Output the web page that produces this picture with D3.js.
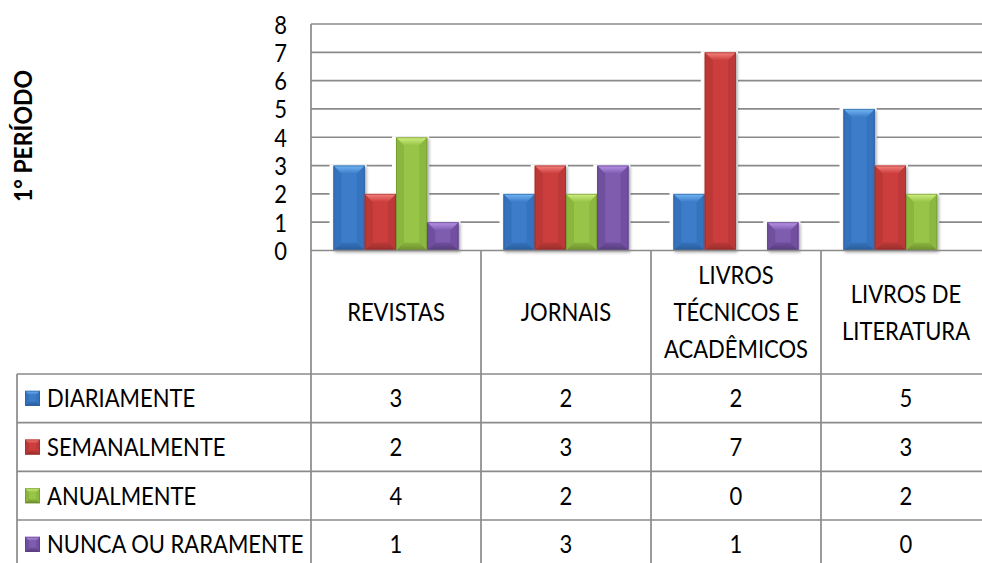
<!DOCTYPE html>
<html><head><meta charset="utf-8">
<script src="https://cdn.jsdelivr.net/npm/d3@7"></script>
<style>
html,body{margin:0;padding:0;background:#fff;overflow:hidden}
svg{display:block;font-family:Lato,"Open Sans",sans-serif}
</style></head>
<body>
<script>
// ---- data ----
const categories = ["REVISTAS", "JORNAIS", "LIVROS\nTÉCNICOS E\nACADÊMICOS", "LIVROS DE\nLITERATURA"];
const seriesNames = ["DIARIAMENTE", "SEMANALMENTE", "ANUALMENTE", "NUNCA OU RARAMENTE"];
const diariamente = [3, 2, 2, 5];
const semanalmente = [2, 3, 7, 3];
const anualmente = [4, 2, 0, 2];
const nuncaOuRaramente = [1, 3, 1, 0];
const yTickValues = [0, 1, 2, 3, 4, 5, 6, 7, 8];
const axisTitle = "1° PERÍODO";

const seriesValues = [diariamente, semanalmente, anualmente, nuncaOuRaramente];
const palette = [
  {body:"#3c7cc9", top:"#74b8f6", bottom:"#2a5c98", side:"#3472bd"},
  {body:"#cc3e3c", top:"#f58480", bottom:"#972c2a", side:"#bb3836"},
  {body:"#98c547", top:"#d0f083", bottom:"#6c8c2e", side:"#8ab63e"},
  {body:"#7e5bae", top:"#bb96ea", bottom:"#533a7a", side:"#714f9f"}
];

const W = 982, H = 563;
const FS = 25, SX = 0.88; // font size and horizontal condense (Calibri-like)
const svg = d3.select("body").append("svg").attr("width", W).attr("height", H);
const defs = svg.append("defs");
const f = defs.append("filter").attr("id","shadow").attr("x","-20%").attr("y","-20%").attr("width","150%").attr("height","150%");
f.append("feDropShadow").attr("dx",1.5).attr("dy",1.5).attr("stdDeviation",1.5).attr("flood-color","#000").attr("flood-opacity",0.35);

palette.forEach((p,i)=>{
  const g = defs.append("linearGradient").attr("id","top"+i).attr("x1",0).attr("y1",0).attr("x2",0).attr("y2",1);
  g.append("stop").attr("offset","0%").attr("stop-color",p.top);
  g.append("stop").attr("offset","100%").attr("stop-color",p.body);
  const b = defs.append("linearGradient").attr("id","bot"+i).attr("x1",0).attr("y1",0).attr("x2",0).attr("y2",1);
  b.append("stop").attr("offset","0%").attr("stop-color",p.side);
  b.append("stop").attr("offset","100%").attr("stop-color",p.bottom);
});

function label(parent, x0, y0, txt, anchor){
  return parent.append("text").attr("transform",`translate(${x0},${y0}) scale(${SX},1)`)
    .attr("text-anchor", anchor || "middle").attr("dy","0.36em")
    .attr("font-size",FS).attr("fill","#000").text(txt);
}

const plotLeft = 311, plotRight = 991;
const y = d3.scaleLinear().domain([0, 8]).range([250.5, 24]);
const x = d3.scaleBand().domain(categories).range([plotLeft, plotRight]).paddingInner(0).paddingOuter(0);
const xs = d3.scaleBand().domain(seriesNames).range([0, x.bandwidth()]).paddingInner(0).paddingOuter(0.72);

const lineColor = "#8a8a8a";

// gridlines
svg.append("g").selectAll("line").data(yTickValues.filter(d=>d>0)).join("line")
  .attr("x1", plotLeft).attr("x2", W).attr("y1", d=>y(d)).attr("y2", d=>y(d))
  .attr("stroke", lineColor).attr("stroke-width", 1.7);

// y axis labels
const yAxis = d3.axisLeft(y).tickValues(yTickValues).tickSize(0).tickPadding(0).tickFormat(d3.format("d"));
const ya = svg.append("g").attr("transform", `translate(287,0)`).call(yAxis);
ya.select(".domain").remove();
ya.selectAll(".tick text").attr("font-size", FS).attr("fill", "#000").attr("font-family","Lato,sans-serif")
  .attr("x", 0).attr("dy","0.36em").attr("transform", `scale(${SX},1)`);

// bars
const barData = [];
categories.forEach((c,ci)=>seriesNames.forEach((s,si)=>barData.push({c, s, si, v: seriesValues[si][ci]})));
const bw = xs.bandwidth();
const barsG = svg.append("g");
barsG.selectAll("rect.halo").data(barData.filter(d=>d.v>0)).join("rect").attr("class","halo")
  .attr("x", d=>x(d.c)+xs(d.s)-4).attr("y", d=>y(d.v)-1)
  .attr("width", bw+6).attr("height", d=>y(0)-y(d.v)+1).attr("fill","#fff");

const bars = barsG.selectAll("g.bar").data(barData.filter(d=>d.v>0)).join("g").attr("class","bar")
  .attr("filter","url(#shadow)");
function bevel(sel, x0, y0, w, h, i, b){
  const p = palette[i];
  const g = sel.append("g");
  g.append("rect").attr("x",x0).attr("y",y0).attr("width",w).attr("height",h).attr("fill",p.body);
  g.append("polygon").attr("points",`${x0},${y0} ${x0+b},${y0+b} ${x0+b},${y0+h-b} ${x0},${y0+h}`).attr("fill",p.side);
  g.append("polygon").attr("points",`${x0+w},${y0} ${x0+w-b},${y0+b} ${x0+w-b},${y0+h-b} ${x0+w},${y0+h}`).attr("fill",p.side).attr("opacity",0.9);
  g.append("polygon").attr("points",`${x0},${y0} ${x0+w},${y0} ${x0+w-b},${y0+b} ${x0+b},${y0+b}`).attr("fill",`url(#top${i})`);
  g.append("polygon").attr("points",`${x0},${y0+h} ${x0+w},${y0+h} ${x0+w-b},${y0+h-b} ${x0+b},${y0+h-b}`).attr("fill",`url(#bot${i})`);
  g.append("rect").attr("x",x0+0.5).attr("y",y0+0.5).attr("width",w-1).attr("height",h-1).attr("fill","none").attr("stroke",p.bottom).attr("stroke-width",1).attr("opacity",0.6);
  return g;
}
bars.each(function(d){
  const x0 = x(d.c)+xs(d.s), y0 = y(d.v), h = y(0)-y(d.v);
  bevel(d3.select(this), x0, y0, bw, h, d.si, 8);
});

// data table
const rows = d3.scaleBand().domain(seriesNames).range([374, 374 + 4*48.67]);
const tableG = svg.append("g").attr("stroke", lineColor).attr("stroke-width", 1.7);
tableG.append("line").attr("x1", plotLeft).attr("x2", W).attr("y1", y(0)).attr("y2", y(0));
tableG.append("line").attr("x1", plotLeft).attr("x2", plotLeft).attr("y1", y(8)).attr("y2", H);
tableG.selectAll("line.col").data(categories.slice(1)).join("line").attr("class","col")
  .attr("x1", d=>x(d)).attr("x2", d=>x(d)).attr("y1", y(0)).attr("y2", H);
tableG.selectAll("line.row").data(seriesNames).join("line").attr("class","row")
  .attr("x1", 17).attr("x2", W).attr("y1", d=>rows(d)).attr("y2", d=>rows(d));
tableG.append("line").attr("x1", 17).attr("x2", 17).attr("y1", rows(seriesNames[0])).attr("y2", H);

// category header text
const headerMid = (y(0) + 374) / 2;
categories.forEach(c=>{
  const lines = c.split("\n");
  const lh = 37;
  lines.forEach((ln,k)=>{
    label(svg, x(c)+x.bandwidth()/2, headerMid + (k - (lines.length-1)/2)*lh, ln, "middle");
  });
});

// legend rows
seriesNames.forEach((s,si)=>{
  const cy = rows(s) + rows.bandwidth()/2;
  const ig = svg.append("g");
  bevel(ig, 25, cy-7.5, 15, 15, si, 4);
  label(svg, 47, cy, s, "start");
  categories.forEach((c,ci)=>{
    label(svg, x(c)+x.bandwidth()/2, cy, seriesValues[si][ci], "middle");
  });
});

// rotated axis title
svg.append("text").attr("transform","translate(23,136) rotate(-90) scale(0.92,1)").attr("text-anchor","middle")
  .attr("dy","0.36em").attr("font-size",25).attr("font-weight","bold").attr("fill","#000").text(axisTitle);
</script>
</body></html>
